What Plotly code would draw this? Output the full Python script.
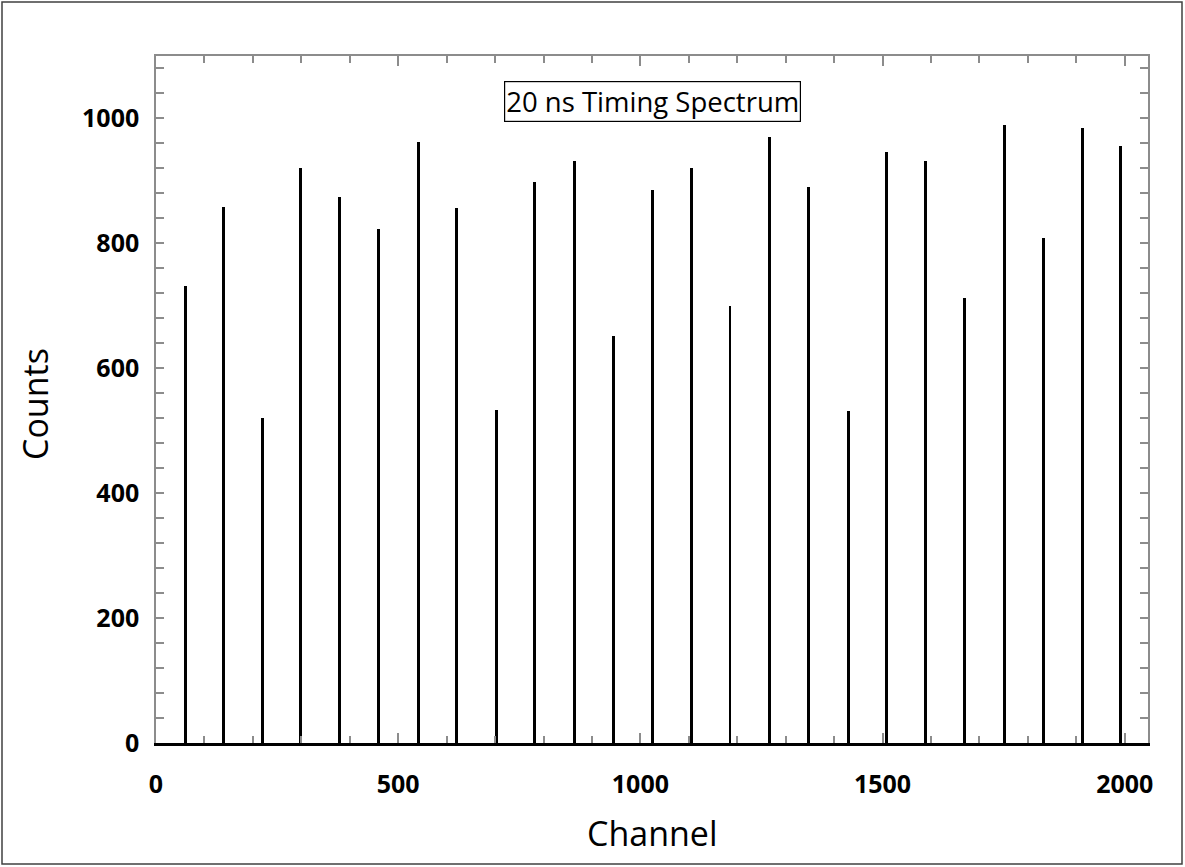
import plotly.graph_objects as go

# Peak channels and counts
channels = [60, 139, 220, 299, 378, 460, 541, 621, 703, 782, 864, 945, 1025,
            1106, 1185, 1266, 1347, 1429, 1509, 1589, 1670, 1751, 1832, 1912, 1991]
counts = [731, 859, 520, 921, 874, 823, 963, 856, 533, 898, 932, 652, 886,
          920, 700, 971, 891, 532, 947, 932, 712, 989, 808, 985, 956]

x_ticks = [0, 500, 1000, 1500, 2000]
y_ticks = [0, 200, 400, 600, 800, 1000]

W, H = 1185, 867
ML, MR, MT, MB = 156, 37, 56, 124
pw = W - ML - MR
ph = H - MT - MB

FRAME = "#8c8c8c"
tickfont = dict(family="Open Sans", size=25, color="black", weight="bold")

fig = go.Figure()
fig.add_trace(go.Bar(x=channels, y=counts, width=6,
                     marker=dict(color="black", line=dict(width=0)),
                     showlegend=False, hoverinfo="x+y"))

fig.update_layout(
    width=W, height=H,
    margin=dict(l=ML, r=MR, t=MT, b=MB, pad=0),
    paper_bgcolor="white", plot_bgcolor="white",
    bargap=0,
    xaxis=dict(range=[0, 2048], showgrid=False, zeroline=False,
               showline=True, linecolor="black", linewidth=3,
               ticks="inside", tickcolor=FRAME, tickwidth=1.5, ticklen=10,
               tickvals=x_ticks, ticktext=[str(v) for v in x_ticks],
               minor=dict(dtick=100, tick0=0, ticks="inside", ticklen=7,
                          tickcolor=FRAME, tickwidth=1.5, showgrid=False),
               tickfont=tickfont, ticklabelstandoff=17),
    xaxis2=dict(range=[0, 2048], overlaying="x", side="top", matches="x",
                showgrid=False, zeroline=False, showline=True,
                linecolor=FRAME, linewidth=1.5,
                ticks="inside", tickcolor=FRAME, tickwidth=1.5, ticklen=10,
                tickvals=x_ticks, showticklabels=False,
                minor=dict(dtick=100, tick0=0, ticks="inside", ticklen=7,
                           tickcolor=FRAME, tickwidth=1.5, showgrid=False)),
    yaxis=dict(range=[0, 1100], showgrid=False, zeroline=False,
               showline=True, linecolor=FRAME, linewidth=1.5, mirror="ticks",
               ticks="inside", tickcolor=FRAME, tickwidth=1.5, ticklen=8,
               tickvals=y_ticks, ticktext=[str(v) for v in y_ticks],
               minor=dict(dtick=40, tick0=0, ticks="inside", ticklen=8,
                          tickcolor=FRAME, tickwidth=1.5, showgrid=False),
               tickfont=tickfont, ticklabelstandoff=10),
)

# invisible trace to activate top axis
fig.add_trace(go.Scatter(x=[0], y=[0], xaxis="x2", mode="markers",
                         marker=dict(opacity=0), showlegend=False, hoverinfo="skip"))

fig.add_annotation(text="Channel", xref="paper", yref="paper",
                   x=0.5, y=(742.5 - 832) / ph, xanchor="center", yanchor="middle",
                   showarrow=False, font=dict(family="Open Sans", size=34, color="black"))
fig.add_annotation(text="Counts", xref="paper", yref="paper",
                   x=(35 - ML) / pw, y=(H - MB - 404) / ph, xanchor="center", yanchor="middle",
                   textangle=-90, showarrow=False,
                   font=dict(family="Open Sans", size=34, color="black"))
fig.add_annotation(text="20 ns Timing Spectrum", xref="paper", yref="paper",
                   x=(652.5 - ML) / pw, y=(H - MB - 101) / ph, xanchor="center", yanchor="middle",
                   showarrow=False, bordercolor="black", borderwidth=1.2, borderpad=1,
                   bgcolor="white",
                   font=dict(family="Open Sans", size=27.5, color="black"))

# outer frame around the whole picture
fig.add_shape(type="rect", xref="paper", yref="paper",
              x0=(2 - ML) / pw, x1=(W - 3 - ML) / pw,
              y0=(H - MB - (H - 3)) / ph, y1=(H - MB - 2) / ph,
              line=dict(color="#404040", width=1.5), layer="below")

fig.write_html("out.html", config={"displayModeBar": False},
               post_script="document.body.style.margin='0';")
